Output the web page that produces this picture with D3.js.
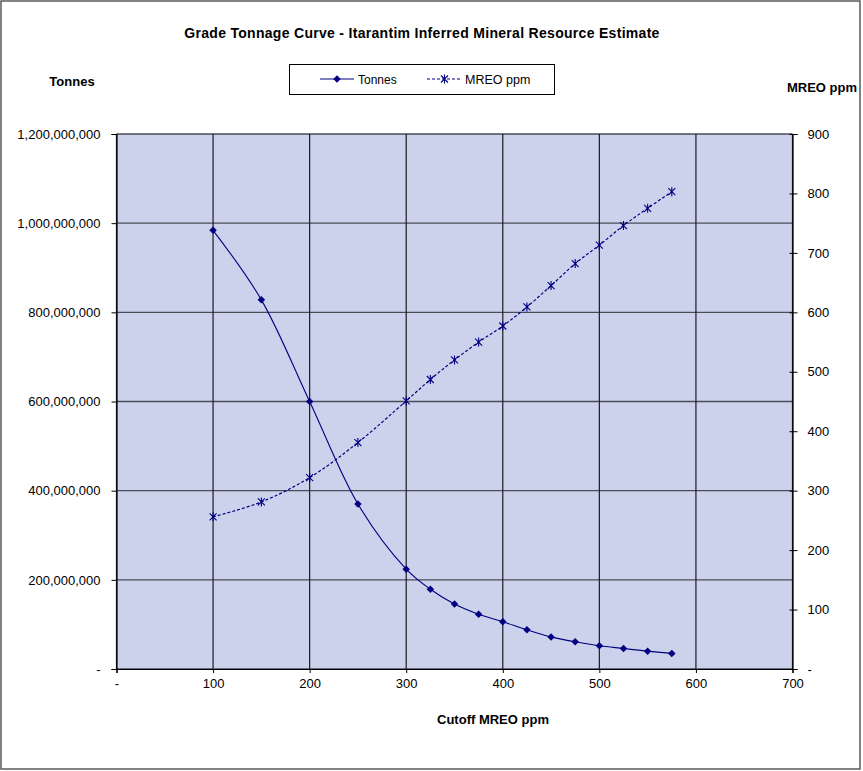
<!DOCTYPE html>
<html>
<head>
<meta charset="utf-8">
<script src="https://cdn.jsdelivr.net/npm/d3@7"></script>
<style>
  html, body { margin: 0; padding: 0; background: #fff; }
  svg { display: block; font-family: Arial, "Liberation Sans", sans-serif; }
</style>
</head>
<body>
<svg id="chart" width="863" height="771"></svg>
<script>
'use strict';

// cutoff grades (MREO ppm)
const cutoffs = [100, 150, 200, 250, 300, 325, 350, 375, 400, 425, 450, 475, 500, 525, 550, 575];
// tonnes above cutoff
const tonnes = [984e6, 828e6, 600e6, 370e6, 224e6, 179e6, 146e6, 123e6, 106e6, 88e6, 72e6, 61e6, 52e6, 46e6, 40e6, 35e6];
// average grade above cutoff
const mreoPpm = [256, 281, 322, 381, 451, 487, 520, 550, 577, 609, 645, 682, 713, 746, 775, 803];

const xTicks = [0, 100, 200, 300, 400, 500, 600, 700];
const leftTicks = [0, 200e6, 400e6, 600e6, 800e6, 1000e6, 1200e6];
const rightTicks = [0, 100, 200, 300, 400, 500, 600, 700, 800, 900];

const navy = '#000080';
const plot = {left: 116.5, right: 792.5, top: 134, bottom: 669};

const svg = d3.select('#chart');

const x = d3.scaleLinear().domain([0, 700]).range([plot.left, plot.right]);
const yL = d3.scaleLinear().domain([0, 1200e6]).range([plot.bottom, plot.top]);
const yR = d3.scaleLinear().domain([0, 900]).range([plot.bottom, plot.top]);

const fmtL = d => d === 0 ? '-' : d3.format(',')(d);
const fmtR = d => d === 0 ? '-' : d3.format('d')(d);

// outer frame
svg.append('rect')
  .attr('x', 1).attr('y', 1).attr('width', 859).attr('height', 768)
  .attr('fill', '#fff').attr('stroke', '#5a5a5a').attr('stroke-width', 1.5);

// plot background
svg.append('rect')
  .attr('x', plot.left).attr('y', plot.top)
  .attr('width', plot.right - plot.left).attr('height', plot.bottom - plot.top)
  .attr('fill', '#ccd1ec');

// gridlines
svg.append('g')
  .selectAll('line')
  .data(leftTicks)
  .join('line')
  .attr('x1', plot.left).attr('x2', plot.right)
  .attr('y1', d => yL(d)).attr('y2', d => yL(d))
  .attr('stroke', '#4a4c58').attr('stroke-width', 1.4);

svg.append('g')
  .selectAll('line')
  .data(xTicks)
  .join('line')
  .attr('x1', d => x(d)).attr('x2', d => x(d))
  .attr('y1', plot.top).attr('y2', plot.bottom)
  .attr('stroke', '#1c1c24').attr('stroke-width', 1.2);

// axes
const styleAxis = g => {
  g.select('.domain').attr('stroke', '#000').attr('stroke-width', 1.2);
  g.selectAll('.tick line').attr('stroke', '#000');
  g.selectAll('.tick text').attr('fill', '#000').attr('font-size', 13)
    .attr('font-family', 'Arial, "Liberation Sans", sans-serif');
};

svg.append('g')
  .attr('transform', `translate(${plot.left},0)`)
  .call(d3.axisLeft(yL).tickValues(leftTicks).tickFormat(fmtL).tickSizeOuter(0).tickSize(5).tickPadding(11))
  .call(styleAxis);

svg.append('g')
  .attr('transform', `translate(0,${plot.bottom})`)
  .call(d3.axisBottom(x).tickValues(xTicks).tickFormat(fmtL).tickSizeOuter(0).tickSize(4).tickPadding(6))
  .call(styleAxis);

const rightAxis = svg.append('g')
  .attr('transform', `translate(${plot.right},0)`)
  .call(d3.axisRight(yR).tickValues(rightTicks).tickFormat(fmtR).tickSizeOuter(0).tickSize(5).tickPadding(10))
  .call(styleAxis);
rightAxis.selectAll('.tick line').attr('x1', -3);

// series
const tonnesData = cutoffs.map((c, i) => ({c, v: tonnes[i]}));
const mreoData = cutoffs.map((c, i) => ({c, v: mreoPpm[i]}));

svg.append('path')
  .datum(tonnesData)
  .attr('fill', 'none').attr('stroke', navy).attr('stroke-width', 1.1)
  .attr('d', d3.line().x(d => x(d.c)).y(d => yL(d.v)).curve(d3.curveCatmullRom.alpha(0.5)));

svg.append('path')
  .datum(mreoData)
  .attr('fill', 'none').attr('stroke', navy).attr('stroke-width', 1.2)
  .attr('stroke-dasharray', '3,2')
  .attr('d', d3.line().x(d => x(d.c)).y(d => yR(d.v)).curve(d3.curveCatmullRom.alpha(0.5)));

const diamond = d3.symbol().type(d3.symbolDiamond2).size(36);
const star = s => `M${-s},${-s}L${s},${s}M${-s},${s}L${s},${-s}M0,${-s - 1}L0,${s + 1}`;

svg.append('g')
  .selectAll('path')
  .data(tonnesData)
  .join('path')
  .attr('transform', d => `translate(${x(d.c)},${yL(d.v)})`)
  .attr('d', diamond)
  .attr('fill', navy);

svg.append('g')
  .selectAll('path')
  .data(mreoData)
  .join('path')
  .attr('transform', d => `translate(${x(d.c)},${yR(d.v)})`)
  .attr('d', star(3.5))
  .attr('fill', 'none').attr('stroke', navy).attr('stroke-width', 1.1);

// titles
const bold = (tx, ty, str, size, anchor) => svg.append('text')
  .attr('x', tx).attr('y', ty).attr('text-anchor', anchor || 'middle')
  .attr('font-size', size).attr('font-weight', 'bold').attr('fill', '#000')
  .text(str);

bold(422, 38, 'Grade Tonnage Curve - Itarantim Inferred Mineral Resource Estimate', 14)
  .attr('letter-spacing', 0.3);
bold(72, 86, 'Tonnes', 13);
bold(822, 92, 'MREO ppm', 13);
bold(493, 724, 'Cutoff MREO ppm', 13);

// legend
const legend = svg.append('g');
legend.append('rect')
  .attr('x', 289.5).attr('y', 64.5).attr('width', 265).attr('height', 30)
  .attr('fill', '#fff').attr('stroke', '#000').attr('stroke-width', 1);

legend.append('line')
  .attr('x1', 320).attr('x2', 354).attr('y1', 79).attr('y2', 79)
  .attr('stroke', navy).attr('stroke-width', 1.1);
legend.append('path')
  .attr('transform', 'translate(337,79)').attr('d', diamond).attr('fill', navy);
legend.append('text')
  .attr('x', 358).attr('y', 83.5).attr('font-size', 12).text('Tonnes');

legend.append('line')
  .attr('x1', 427).attr('x2', 462).attr('y1', 79).attr('y2', 79)
  .attr('stroke', navy).attr('stroke-width', 1.2).attr('stroke-dasharray', '3,2');
legend.append('path')
  .attr('transform', 'translate(444.5,79)').attr('d', star(3.5))
  .attr('fill', 'none').attr('stroke', navy).attr('stroke-width', 1.1);
legend.append('text')
  .attr('x', 465).attr('y', 83.5).attr('font-size', 12.5).text('MREO ppm');
</script>
</body>
</html>
